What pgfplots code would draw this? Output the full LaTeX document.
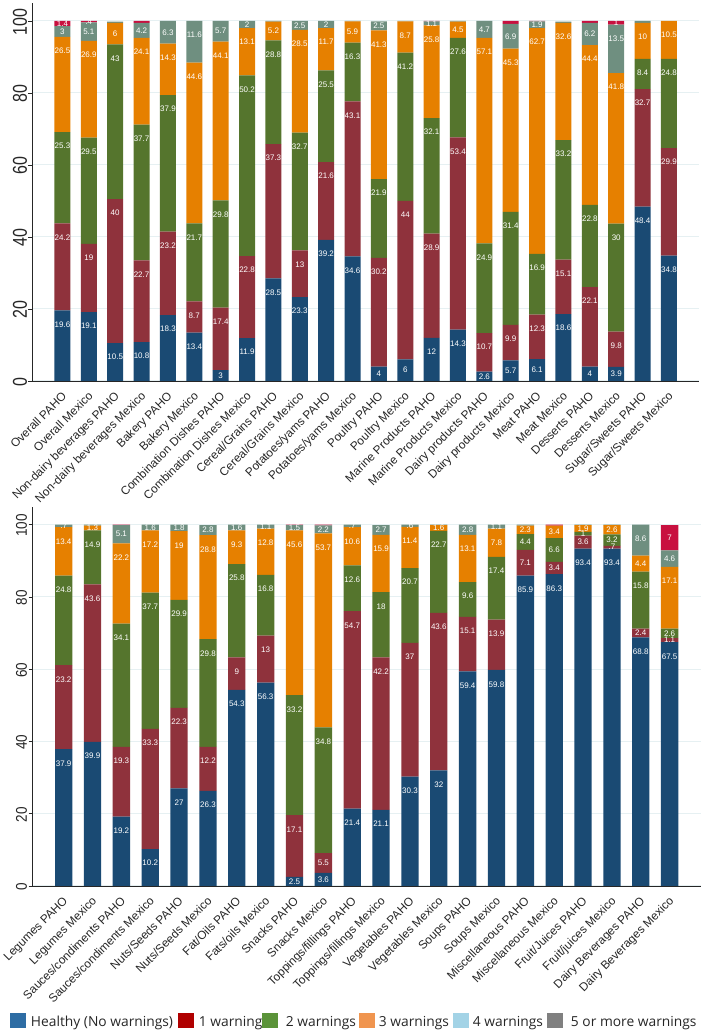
\documentclass[border=0pt]{standalone}
\usepackage{fontspec}
\setmainfont{Liberation Sans}
\newfontfamily\legfont{Open Sans}
\usepackage{pgfplots}
\usepackage{pgfplotstable}
\pgfplotsset{compat=1.18}

\definecolor{cnavy}{HTML}{1A4A73}
\definecolor{cmaroon}{HTML}{8F323C}
\definecolor{cgreen}{HTML}{55752D}
\definecolor{corange}{HTML}{E68000}
\definecolor{cgrey}{HTML}{6F8F80}
\definecolor{ccrim}{HTML}{C8103F}
\definecolor{lblue}{HTML}{2E6DA4}
\definecolor{lred}{HTML}{B00000}
\definecolor{lgreen}{HTML}{5B9339}
\definecolor{lorange}{HTML}{F0954F}
\definecolor{llblue}{HTML}{A3D3E6}
\definecolor{lgrey}{HTML}{808080}
\definecolor{gridc}{HTML}{E6F0F2}

% columns: healthy, 1, 2, 3, 4 and 5+ warnings (bottom to top)
\pgfplotstableread{
h w1 w2 w3 w4 w5
19.6 24.2 25.3 26.5 3 1.4
19.1 19 29.5 26.9 5.1 .4
10.5 40 43 6 .3 0
10.8 22.7 37.7 24.1 4.2 .5
18.3 23.2 37.9 14.3 6.3 0
13.4 8.7 21.7 44.6 11.6 0
3 17.4 29.8 44.1 5.7 0
11.9 22.8 50.2 13.1 2 0
28.5 37.3 28.8 5.2 .2 0
23.3 13 32.7 28.5 2.5 0
39.2 21.6 25.5 11.7 2 0
34.6 43.1 16.3 5.9 .1 0
4 30.2 21.9 41.3 2.5 0
6 44 41.2 8.7 .1 0
12 28.9 32.1 25.8 1.1 .1
14.3 53.4 27.6 4.5 .2 0
2.6 10.7 24.9 57.1 4.7 0
5.7 9.9 31.4 45.3 6.9 .8
6.1 12.3 16.9 62.7 1.9 .1
18.6 15.1 33.2 32.6 .3 0
4 22.1 22.8 44.4 6.2 .5
3.9 9.8 30 41.8 13.5 1
48.4 32.7 8.4 10 .5 0
34.8 29.9 24.8 10.5 0 0
}\toptab

\pgfplotstableread{
h w1 w2 w3 w4 w5
37.9 23.2 24.8 13.4 .7 0
39.9 43.6 14.9 1.3 .3 0
19.2 19.3 34.1 22.2 5.1 .1
10.2 33.3 37.7 17.2 1.6 0
27 22.3 29.9 19 1.8 0
26.3 12.2 29.8 28.8 2.8 0
54.3 9 25.8 9.3 1.6 0
56.3 13 16.8 12.8 1.1 0
2.5 17.1 33.2 45.6 1.5 .1
3.6 5.5 34.8 53.7 2.2 .2
21.4 54.7 12.6 10.6 .7 0
21.1 42.2 18 15.9 2.7 0
30.3 37 20.7 11.4 .6 0
32 43.6 22.7 1.6 .1 0
59.4 15.1 9.6 13.1 2.8 0
59.8 13.9 17.4 7.8 1.1 0
85.9 7.1 4.4 2.3 .3 0
86.3 3.4 6.6 3.4 0 .3
93.4 3.6 1 1.9 .1 0
93.4 .7 3.2 2.6 .1 0
68.8 2.4 15.8 4.4 8.6 0
67.5 1.1 2.6 17.1 4.6 7
}\bottab

\newcommand\lblmin{0.35}
\newcommand\seglabel{%
  \pgfmathtruncatemacro\showit{\rawy>=\lblmin ? 1 : 0}%
  \ifnum\showit=1 \pgfmathprintnumber{\rawy}\fi}
\newcommand\legtext[3]{\hspace{#1}\makebox[#2][l]{\raisebox{-4pt}{#3}}}

\pgfplotsset{
  panel/.style={
    scale only axis,
    anchor=south west,
    ybar stacked,
    ymin=0, ymax=105,
    ytick={0,20,40,60,80,100},
    xtick=data,
    axis x line*=bottom,
    axis y line*=left,
    axis line style={line width=0.9pt,color=black!85},
    ymajorgrids,
    major grid style={gridc,line width=1pt},
    tick style={line width=0.7pt,color=black!85},
    x tick style={draw=none},
    tick align=outside,
    major tick length=4pt,
    /pgf/number format/assume math mode=true,
    x tick label style={rotate=45,anchor=north east,font=\fontsize{11.8}{13}\selectfont,text=black!85,inner sep=1pt,yshift=-2pt,xshift=-4pt},
    visualization depends on={rawy \as \rawy},
    nodes near coords={\seglabel},
    % stacked nodes sit at the segment's middle: lift tall ones to 14pt under its top
    nodes near coords style={white,font=\fontsize{8}{9}\selectfont,inner sep=0pt,anchor=center,
      /pgf/number format/fixed,/pgf/number format/precision=1,/pgf/number format/skip 0.=true,
      yshift={1.8*\rawy>14 ? 1.8*\rawy-14 : 0}},
  },
  seg/.style={draw=none,fill=#1,forget plot},
  swatch/.style={legend image code/.code={\path[##1,draw=none] (0pt,-7.5pt) rectangle (16pt,7.5pt);}},
}

\begin{document}
\begin{tikzpicture}
\useasboundingbox (0,0) rectangle (704pt,1035pt);

\begin{axis}[panel,
  at={(32.5pt,654pt)},
  width=666.5pt, height=378pt,
  xmin=-1.136, xmax=24.14,
  bar width=16pt,
  y tick label style={xscale=1.25,rotate=90,anchor=south,font=\fontsize{16}{17}\selectfont,text=black!85,inner sep=1pt,xshift=-1pt},
  xticklabels={Overall PAHO,Overall Mexico,Non-dairy beverages PAHO,Non-dairy beverages Mexico,Bakery PAHO,Bakery Mexico,Combination Dishes PAHO,Combination Dishes Mexico,Cereal/Grains PAHO,Cereal/Grains Mexico,Potatoes/yams PAHO,Potatoes/yams Mexico,Poultry PAHO,Poultry Mexico,Marine Products PAHO,Marine Products Mexico,Dairy products PAHO,Dairy products Mexico,Meat PAHO,Meat Mexico,Desserts PAHO,Desserts Mexico,Sugar/Sweets PAHO,Sugar/Sweets Mexico},
]
\addplot[seg=cnavy] table[x expr=\coordindex,y=h] {\toptab};
\addplot[seg=cmaroon] table[x expr=\coordindex,y=w1] {\toptab};
\addplot[seg=cgreen] table[x expr=\coordindex,y=w2] {\toptab};
\addplot[seg=corange] table[x expr=\coordindex,y=w3] {\toptab};
\addplot[seg=cgrey] table[x expr=\coordindex,y=w4] {\toptab};
\renewcommand\seglabel{%
  \pgfmathtruncatemacro\showit{(\rawy>=0.95 || abs(\rawy-0.4)<0.01) ? 1 : 0}%
  \ifnum\showit=1 \pgfmathprintnumber{\rawy}\fi}
\addplot[seg=ccrim] table[x expr=\coordindex,y=w5] {\toptab};
\end{axis}

\renewcommand\seglabel{%
  \pgfmathtruncatemacro\showit{\rawy>=\lblmin ? 1 : 0}%
  \ifnum\showit=1 \pgfmathprintnumber{\rawy}\fi}

\begin{axis}[panel,
  at={(32.5pt,149pt)},
  width=668pt, height=379.4pt,
  xmin=-1.08, xmax=22.07,
  bar width=17.3pt,
  y tick label style={xscale=1.15,rotate=90,anchor=south,font=\fontsize{13.5}{14}\selectfont,text=black!85,inner sep=1pt,xshift=-1pt},
  xticklabels={Legumes PAHO,Legumes Mexico,Sauces/condiments PAHO,Sauces/condiments Mexico,Nuts/Seeds PAHO,Nuts/Seeds Mexico,Fat/Oils PAHO,Fats/oils Mexico,Snacks PAHO,Snacks Mexico,Toppings/fillings PAHO,Toppings/fillings Mexico,Vegetables PAHO,Vegetables Mexico,Soups PAHO,Soups Mexico,Miscellaneous PAHO,Miscellaneous Mexico,Fruit/Juices PAHO,Fruit/juices Mexico,Dairy Beverages PAHO,Dairy Beverages Mexico},
  legend style={at={(rel axis cs:-0.0337,-0.3347)},anchor=north west,draw=none,fill=none,
    inner sep=0pt,outer sep=0pt,nodes={inner sep=0pt,outer sep=0pt},
    /tikz/column sep=0pt,font=\legfont\fontsize{13.8}{15}\selectfont,text=black!85},
  legend columns=6,
  legend cell align=left,
]
\addplot[seg=cnavy] table[x expr=\coordindex,y=h] {\bottab};
\addplot[seg=cmaroon] table[x expr=\coordindex,y=w1] {\bottab};
\addplot[seg=cgreen] table[x expr=\coordindex,y=w2] {\bottab};
\addplot[seg=corange] table[x expr=\coordindex,y=w3] {\bottab};
\addplot[seg=cgrey] table[x expr=\coordindex,y=w4] {\bottab};
\addplot[seg=ccrim] table[x expr=\coordindex,y=w5] {\bottab};
\addlegendimage{swatch,fill=lblue}
\addlegendimage{swatch,fill=lred}
\addlegendimage{swatch,fill=lgreen}
\addlegendimage{swatch,fill=lorange}
\addlegendimage{swatch,fill=llblue}
\addlegendimage{swatch,fill=lgrey}
\legend{\legtext{5pt}{147pt}{Healthy (No warnings)},
  \legtext{5pt}{63pt}{1 warning},
  \legtext{8pt}{73pt}{2 warnings},
  \legtext{4pt}{74pt}{3 warnings},
  \legtext{4pt}{74pt}{4 warnings},
  \legtext{8pt}{125pt}{5 or more warnings}}
\end{axis}
\end{tikzpicture}
\end{document}
